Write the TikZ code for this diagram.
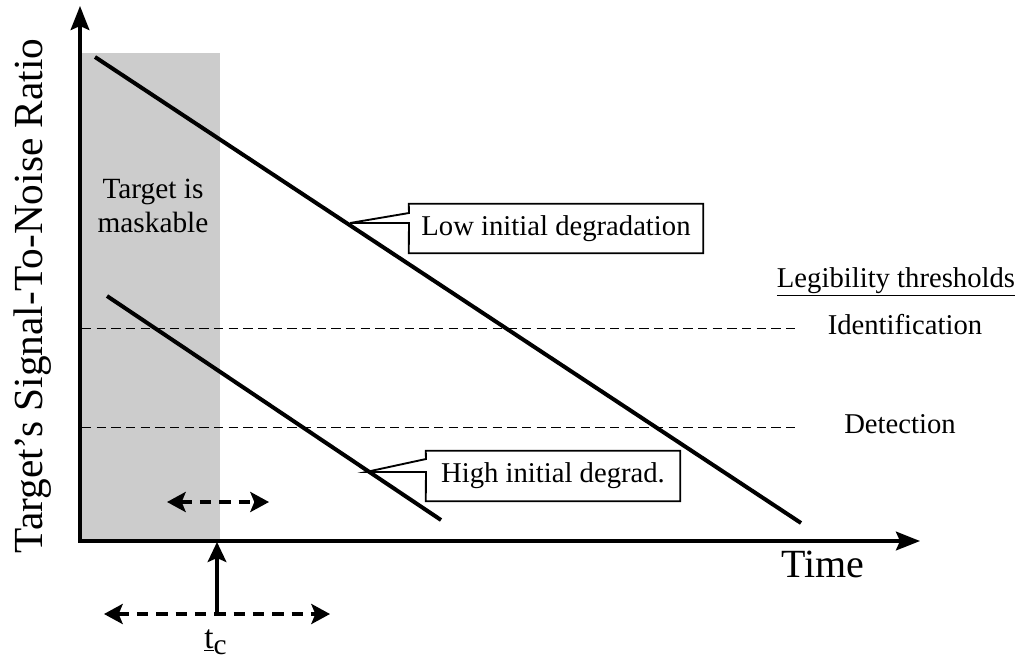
\documentclass[tikz,border=0pt]{standalone}
\usepackage{fontspec}
\setmainfont{Liberation Serif}
\usetikzlibrary{arrows.meta,calc}
\begin{document}
\begin{tikzpicture}[x=0.75pt,y=-0.75pt,
  axis/.style={line width=2.8pt,-{Stealth[length=18pt,width=14pt,inset=3pt]}},
  diag/.style={line width=3pt},
  thresh/.style={line width=0.7pt,dash pattern=on 7pt off 4pt},
  dblarrow/.style={line width=2.8pt,dash pattern=on 8.5pt off 6pt,{Stealth[length=14pt,width=15pt,inset=3pt]}-{Stealth[length=14pt,width=15pt,inset=3pt]}},
  callout/.style={line width=1.4pt},
  boxtext/.style={font=\fontsize{21.5}{26}\selectfont,inner sep=0pt},
  lbl/.style={font=\fontsize{21.5}{26}\selectfont,inner sep=0pt}]
\useasboundingbox (0,0) rectangle (1019,663);
% shaded region
\fill[black!20] (82,53) rectangle (220,540);
% axes
\coordinate (O) at (80,541);
\coordinate (ytop) at (80,6);
\coordinate (xend) at (920,541);
\draw[axis] (80,542.8) -- (ytop);
\draw[axis] (78.2,541) -- (xend);
% threshold lines
\coordinate (i1) at (82,328); \coordinate (i2) at (800,328);
\coordinate (d1) at (82,427); \coordinate (d2) at (800,427);
\draw[thresh] (i1) -- (i2);
\draw[thresh] (d1) -- (d2);
% diagonal lines
\coordinate (l1) at (95,57); \coordinate (l2) at (801,523);
\coordinate (h1) at (107,296); \coordinate (h2) at (441,520);
\draw[diag] (l1) -- (l2);
\draw[diag] (h1) -- (h2);
% callouts
\node[boxtext,minimum width=220.5pt,minimum height=36.75pt] (lowbox) at (556,228.5) {Low initial degradation};
\coordinate (lp) at (350,223);
\draw[callout,line join=miter] (409,213) -- (lowbox.north west) -- (lowbox.north east) -- (lowbox.south east) -- (lowbox.south west) -- (409,223) -- (lp) -- cycle;
\node[boxtext,minimum width=190.5pt,minimum height=37.5pt] (highbox) at (553,476) {High initial degrad.};
\coordinate (hp) at (366,472);
\draw[callout,line join=miter] (426,459) -- (highbox.north west) -- (highbox.north east) -- (highbox.south east) -- (highbox.south west) -- (426,472) -- (hp) -- cycle;
% texts
\node[font=\fontsize{22}{25.5}\selectfont,align=center,inner sep=0pt] (mask) at (153,206) {Target is\\maskable};
\node[lbl] (leg) at (896,282) {\underline{Legibility thresholds}};
\node[lbl] (ident) at (905,325) {Identification};
\node[lbl] (detect) at (900,424) {Detection};
\node[font=\fontsize{30}{36}\selectfont,inner sep=0pt] (time) at (823,564) {Time};
\node[font=\fontsize{31}{36}\selectfont,rotate=90,inner sep=0pt] (ylab) at (33,296) {Target's Signal-To-Noise Ratio};
% t_c arrows
\coordinate (ua) at (167,502); \coordinate (ub) at (269,502);
\draw[dblarrow] (ua) -- (ub);
\coordinate (la) at (104,614); \coordinate (lb) at (330,614);
\draw[dblarrow] (la) -- (lb);
\coordinate (tcb) at (217,615); \coordinate (tct) at (217,542);
\draw[line width=2.6pt,-{Stealth[length=15pt,width=14pt,inset=3pt]}] (tcb) -- (tct);
\node[font=\fontsize{25}{26}\selectfont,inner sep=0pt,anchor=base west] (tc) at (204,648) {\underline{t}\raisebox{-5pt}{\fontsize{22}{24}\selectfont c}};
\end{tikzpicture}
\end{document}
